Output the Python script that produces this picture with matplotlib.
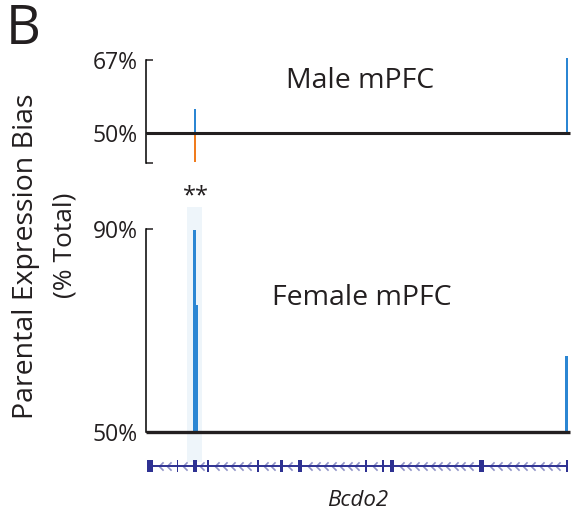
import matplotlib
matplotlib.use("Agg")
import matplotlib.pyplot as plt
import numpy as np
from matplotlib.patches import Rectangle
from matplotlib.path import Path
from matplotlib.transforms import blended_transform_factory

plt.rcParams["font.family"] = ["Open Sans", "DejaVu Sans"]

# SNP positions along the gene (arbitrary units, 0..100) and allelic bias (%)
male_pos = [11.56, 11.56, 99.3]
male_bias = [55.5, 43.3, 67.5]
female_pos = [11.44, 11.98, 99.17]
female_bias = [89.8, 75.1, 65.0]

# Bcdo2 gene model: exons as (start, end)
exons = [(0.17, 1.72), (7.2, 7.55), (11.0, 11.96), (14.45, 14.8), (26.2, 26.55),
         (31.6, 32.3), (35.8, 36.8), (51.75, 52.1), (55.75, 56.1), (57.5, 58.5),
         (78.5, 79.7), (99.15, 99.5)]
gene_start, gene_end = 0.17, 99.5
hilite = (9.74, 13.2)
star_x = 11.7

BLUE = "#2b86d3"
ORANGE = "#f07c1e"
NAVY = "#2e3192"
CHEV = "#8f92c8"
DARK = "#231f20"

W, H = 574, 521
fig = plt.figure(figsize=(W / 100, H / 100), dpi=100)


def fx(px):
    return px / W


def fy(py):
    return 1 - py / H


left, right = fx(146), fx(570)
ax_m = fig.add_axes([left, fy(162.7), right - left, fy(57.5) - fy(162.7)])
ax_f = fig.add_axes([left, fy(432.3), right - left, fy(229.3) - fy(432.3)])
ax_g = fig.add_axes([left, fy(479), right - left, fy(453) - fy(479)])

for ax in (ax_m, ax_f, ax_g):
    ax.patch.set_visible(False)
    ax.set_xlim(0, 100)
    for s in ("top", "right", "bottom"):
        ax.spines[s].set_visible(False)
    ax.set_xticks([])

# highlight band spanning female panel and gene track
tr = blended_transform_factory(ax_f.transData, fig.transFigure)
fig.patches.append(Rectangle((hilite[0], fy(462)), hilite[1] - hilite[0], fy(206.7) - fy(462),
                             transform=tr, facecolor="#eef5fa", edgecolor="none", zorder=-5))
fig.text(star_x, fy(196), "**", transform=tr, ha="center", va="center",
         fontsize=17, color=DARK)

# male panel
ax_m.set_ylim(43.1, 67.6)
ax_m.spines["left"].set_bounds(43.1, 67)
ax_m.spines["left"].set_linewidth(1.1)
m_colors = [BLUE if v > 50 else ORANGE for v in male_bias]
ax_m.bar(male_pos, np.array(male_bias) - 50, bottom=50, width=0.5, color=m_colors, zorder=2)
ax_m.plot([0, 100], [50, 50], color=DARK, lw=2.2, zorder=3, clip_on=False, solid_capstyle="butt")
ax_m.set_yticks([43.1, 50, 67])
ax_m.set_yticklabels(["", "50%", "67%"])
ax_m.tick_params(axis="y", direction="in", length=5, width=1.1, pad=6, labelsize=16.5, colors=DARK)
ax_m.text(0.505, 0.78, "Male mPFC", transform=ax_m.transAxes, ha="center", va="center",
          fontsize=20.5, color=DARK)

# female panel
ax_f.set_ylim(50, 90)
ax_f.spines["left"].set_linewidth(1.1)
f_colors = [BLUE if v > 50 else ORANGE for v in female_bias]
ax_f.bar(female_pos, np.array(female_bias) - 50, bottom=50, width=0.55, color=f_colors, zorder=2)
ax_f.plot([0, 100], [50, 50], color=DARK, lw=2.4, zorder=3, clip_on=False, solid_capstyle="butt")
ax_f.set_yticks([50, 90])
ax_f.set_yticklabels(["50%", "90%"])
ax_f.tick_params(axis="y", direction="in", length=5, width=1.1, pad=6, labelsize=16.5, colors=DARK)
ax_f.text(0.51, 0.66, "Female mPFC", transform=ax_f.transAxes, ha="center", va="center",
          fontsize=20.5, color=DARK)

# gene track
ax_g.spines["left"].set_visible(False)
ax_g.set_yticks([])
ax_g.set_ylim(-1, 1)
ax_g.plot([gene_start, gene_end], [0, 0], color=NAVY, lw=1.4, zorder=2, solid_capstyle="butt")
chev = Path([(0.4, 0.8), (-0.4, 0), (0.4, -0.8)], [Path.MOVETO, Path.LINETO, Path.LINETO])
cx = []
for (a0, a1), (b0, b1) in zip(exons[:-1], exons[1:]):
    gap = b0 - a1
    n = int(gap // 2.0)
    if n > 0:
        step = gap / (n + 1)
        cx.extend(a1 + step * (i + 1) for i in range(n))
ax_g.plot(cx, np.zeros(len(cx)), ls="none", marker=chev, ms=6, mec=CHEV, mfc="none", mew=1.2, zorder=1)
for s, e in exons:
    ax_g.add_patch(Rectangle((s, -0.46), e - s, 0.92, facecolor=NAVY, edgecolor="none", zorder=3))
fig.text(0.5 * (left + right), fy(500), "Bcdo2", ha="center", va="center",
         fontsize=16, style="italic", color=DARK)

# y label and panel letter
fig.text(fx(26), fy(256), "Parental Expression Bias", rotation=90, ha="center", va="center",
         fontsize=20.5, color=DARK)
fig.text(fx(65), fy(245), "(% Total)", rotation=90, ha="center", va="center",
         fontsize=19, color=DARK)
fig.text(fx(6), fy(30), "B", ha="left", va="center", fontsize=39, color=DARK)

fig.savefig("out.png", dpi=100)
